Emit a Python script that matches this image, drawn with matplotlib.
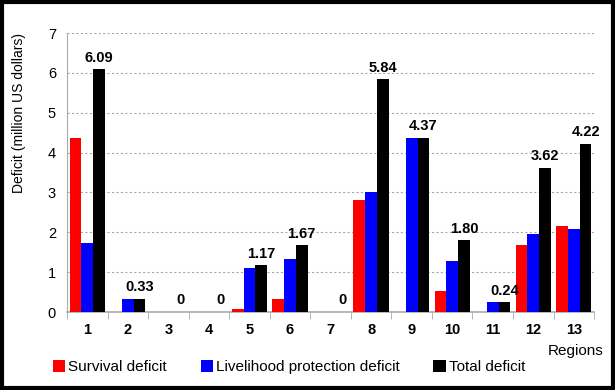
import numpy as np
import matplotlib.pyplot as plt
from matplotlib.patches import Rectangle

plt.rcParams['font.family'] = ['Liberation Sans', 'DejaVu Sans']

regions = ['1', '2', '3', '4', '5', '6', '7', '8', '9', '10', '11', '12', '13']
survival = [4.37, 0, 0, 0, 0.07, 0.33, 0, 2.82, 0, 0.53, 0, 1.67, 2.15]
livelihood = [1.72, 0.33, 0, 0, 1.11, 1.34, 0, 3.02, 4.37, 1.28, 0.24, 1.95, 2.08]
total = [6.09, 0.33, 0, 0, 1.17, 1.67, 0, 5.84, 4.37, 1.80, 0.24, 3.62, 4.22]
total_labels = ['6.09', '0.33', '0', '0', '1.17', '1.67', '0', '5.84', '4.37', '1.80', '0.24', '3.62', '4.22']

fig = plt.figure(figsize=(6.15, 3.9), dpi=100)
ax = fig.add_axes([0.109, 0.2, 0.857, 0.715])

x = np.arange(len(regions))
w = 0.29
ax.bar(x - w, survival, w, color='#ff0000', label='Survival deficit', zorder=3)
ax.bar(x, livelihood, w, color='#0000ff', label='Livelihood protection deficit', zorder=3)
ax.bar(x + w, total, w, color='black', label='Total deficit', zorder=3)

for xi, v, lab in zip(x, total, total_labels):
    ax.text(xi + w, v + 0.12, lab, ha='center', va='bottom', fontsize=10.5, fontweight='bold')

ax.set_xlim(-0.5, len(regions) - 0.5)
ax.set_ylim(0, 7)
ax.set_yticks(range(0, 8))
ax.tick_params(axis='y', length=0, labelsize=10.5, pad=8)
ax.set_xticks(x)
ax.set_xticklabels(regions, fontweight='bold', fontsize=10.5)
ax.tick_params(axis='x', length=0, pad=8)
# category boundary ticks
ax.set_xticks(np.arange(-0.5, len(regions)), minor=True)
ax.tick_params(axis='x', which='minor', length=5, color='#aaaaaa', direction='out')

ax.grid(axis='y', linestyle=(0, (2, 2)), color='#aaaaaa', linewidth=0.8, zorder=0)
for s in ['top', 'right']:
    ax.spines[s].set_visible(False)
ax.spines['left'].set_color('#aaaaaa')
ax.spines['bottom'].set_color('#aaaaaa')
ax.spines['bottom'].set_linewidth(1.2)

ax.set_ylabel('Deficit (million US dollars)', fontsize=10)
ax.yaxis.set_label_coords(-0.078, 0.715)
fig.text(0.982, 0.1, 'Regions', ha='right', va='center', fontsize=11)

fig.legend(loc='center', bbox_to_anchor=(0.47, 0.058), ncol=3, frameon=False,
           fontsize=11, handlelength=0.8, handleheight=0.8, handletextpad=0.2,
           columnspacing=2.2)

fig.patches.append(Rectangle((0.003, 0.004), 0.994, 0.992, transform=fig.transFigure,
                             fill=False, edgecolor='black', linewidth=3))

fig.savefig('out.png', dpi=100)
